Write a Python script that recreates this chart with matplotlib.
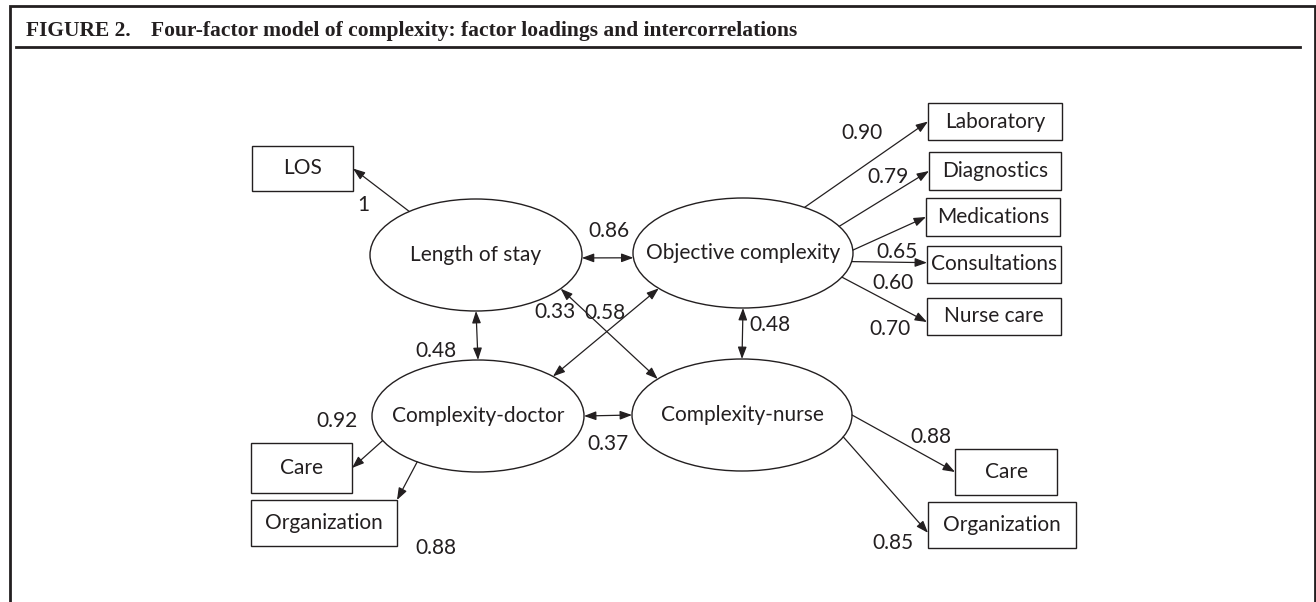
import numpy as np
import matplotlib.pyplot as plt
from matplotlib.patches import Ellipse, Rectangle, FancyArrowPatch

# Model content
factors = ["Length of stay", "Objective complexity", "Complexity-doctor", "Complexity-nurse"]
indicators = ["LOS", "Laboratory", "Diagnostics", "Medications", "Consultations",
              "Nurse care", "Care", "Organization", "Care ", "Organization "]
ind_factor = [0, 1, 1, 1, 1, 1, 2, 2, 3, 3]
loadings = ["1", "0.90", "0.79", "0.65", "0.60", "0.70", "0.92", "0.88", "0.88", "0.85"]
corr_pairs = [(0, 1), (0, 2), (1, 3), (2, 3), (0, 3), (1, 2)]
corr_values = ["0.86", "0.48", "0.48", "0.37", "0.33", "0.58"]

title_num = "FIGURE 2."
title_text = "Four-factor model of complexity: factor loadings and intercorrelations"

# Layout (pixel units, y downwards)
fac_pos = [(476, 255, 106, 56), (743, 253, 110, 55), (478, 416, 106, 56), (742, 415, 110, 56)]
box_pos = [(252, 146, 101, 45), (928, 103, 134, 37), (929, 152, 132, 38), (926, 198, 134, 38),
           (927, 246, 134, 37), (927, 298, 134, 37), (251, 443, 101, 50), (251, 500, 146, 46),
           (955, 449, 102, 46), (928, 502, 148, 46)]
# start angle on ellipse (deg, y down) and end anchor on box (fx, fy within box)
load_geom = [(-129, (1.0, 0.5)), (-56, (0.0, 0.5)), (-29, (0.0, 0.5)), (-3, (0.0, 0.5)),
             (9, (0.0, 0.45)), (26, (0.0, 0.65)), (154, (1.0, 0.5)), (125, (1.0, 0.0)),
             (0, (0.0, 0.5)), (23, (0.0, 0.67))]
load_lab = [(363, 205), (862, 133), (888, 177), (897, 252), (893, 283), (890, 329),
            (337, 421), (436, 548), (931, 437), (893, 543)]
corr_geom = [(3, 175), (90, -90), (90, -90), (0, 180), (37, -140), (140, -45)]
corr_lab = [(609, 231), (436, 351), (770, 325), (608, 444), (555, 312), (605, 313)]

ink = "#231f20"
font = "Lato"


def on_ellipse(i, t):
    cx, cy, a, b = fac_pos[i]
    r = np.deg2rad(t)
    return cx + a * np.cos(r), cy + b * np.sin(r)


def arrow(ax, p, q, style):
    ax.add_patch(FancyArrowPatch(p, q, arrowstyle=style, mutation_scale=12,
                                 shrinkA=0, shrinkB=0, color=ink, lw=0.9))


fig = plt.figure(figsize=(13.16, 6.02), dpi=100)
ax = fig.add_axes([0, 0, 1, 1])
ax.set_xlim(0, 1316)
ax.set_ylim(602, 0)
ax.axis("off")

# frame and header
ax.plot([10, 10, 1315, 1315], [602, 6, 6, 602], color=ink, lw=2.0, solid_joinstyle="miter")
ax.plot([16, 1300], [47, 47], color=ink, lw=2.0)
ax.text(26, 36, title_num, family="Liberation Serif", weight="bold", fontsize=15.5,
        color=ink, va="baseline")
ax.text(151, 36, title_text, family="Liberation Serif", weight="bold", fontsize=15.5,
        color=ink, va="baseline")

# latent factors
for name, (cx, cy, a, b) in zip(factors, fac_pos):
    ax.add_patch(Ellipse((cx, cy), 2 * a, 2 * b, fill=False, ec=ink, lw=1.0))
    ax.text(cx, cy, name, family=font, fontsize=15, color=ink, ha="center", va="center")

# indicators
for name, (x, y, w, h) in zip(indicators, box_pos):
    ax.add_patch(Rectangle((x, y), w, h, fill=False, ec=ink, lw=1.0))
    ax.text(x + w / 2, y + h / 2, name.strip(), family=font, fontsize=15, color=ink,
            ha="center", va="center")

head = "-|>,head_length=0.6,head_width=0.22"
for f, (t, (fx, fy)), (x, y, w, h) in zip(ind_factor, load_geom, box_pos):
    arrow(ax, on_ellipse(f, t), (x + fx * w, y + fy * h), head)
for val, (lx, ly) in zip(loadings, load_lab):
    ax.text(lx, ly, val, family=font, fontsize=15, color=ink, ha="center", va="center")

dbl = "<|-|>,head_length=0.6,head_width=0.22"
for (i, j), (ti, tj) in zip(corr_pairs, corr_geom):
    arrow(ax, on_ellipse(i, ti), on_ellipse(j, tj), dbl)
for val, (lx, ly) in zip(corr_values, corr_lab):
    ax.text(lx, ly, val, family=font, fontsize=15, color=ink, ha="center", va="center")

fig.savefig("out.png", dpi=100, facecolor="white")
